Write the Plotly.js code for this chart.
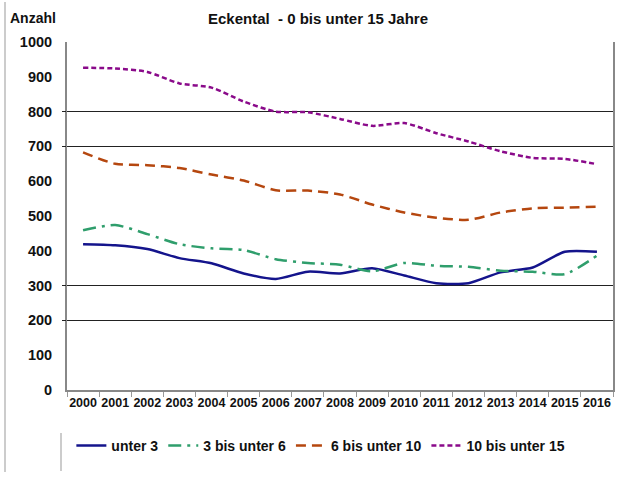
<!DOCTYPE html>
<html>
<head>
<meta charset="utf-8">
<script src="https://cdn.plot.ly/plotly-3.0.1.min.js"></script>
<style>html,body{margin:0;padding:0;background:#fff;}#chart{width:626px;height:477px;}</style>
</head>
<body>
<div id="chart"></div>
<script>
const years = ['2000','2001','2002','2003','2004','2005','2006','2007','2008','2009','2010','2011','2012','2013','2014','2015','2016'];
const unter3 = [419,416,405,379,364,335,319,340,335,350,329,307,307,338,352,397,397];
const bis6   = [459,474,448,419,407,402,376,365,360,341,365,357,354,343,340,333,386];
const bis10  = [683,650,646,638,619,602,574,573,562,533,510,495,489,510,522,524,527];
const bis15  = [926,924,914,881,869,829,800,798,779,759,767,738,714,686,667,664,649];
const seriesNames = ['unter 3','3 bis unter 6','6 bis unter 10','10 bis unter 15'];
const yTicks = [0,100,200,300,400,500,600,700,800,900,1000];
const gridVals = [200,300,700,800];

const F = 'Liberation Sans, Arial, sans-serif';
const mk = (name, y, color, dash) => ({
  type:'scatter', mode:'lines', name:name, x:years, y:y,
  line:{color:color, width:2.5, dash:dash, shape:'spline', smoothing:0.7},
  hoverinfo:'skip'
});
const traces = [
  mk(seriesNames[0], unter3, '#14148c', 'solid'),
  mk(seriesNames[1], bis6, '#2f9e6c', '13px,6px,3px,6px'),
  mk(seriesNames[2], bis10, '#b5470f', '10px,6px'),
  mk(seriesNames[3], bis15, '#8a0a8a', '5px,3px'),
  {type:'scatter', x:[], y:[], yaxis:'y2', showlegend:false, hoverinfo:'skip'}
];
const layout = {
  width:626, height:477,
  margin:{l:67, r:13, t:42, b:87},
  paper_bgcolor:'#fff', plot_bgcolor:'#fff',
  showlegend:true,
  title:{text:'Eckental  - 0 bis unter 15 Jahre', font:{family:F, size:15, weight:'bold', color:'#111'},
         x:0.508, xref:'container', xanchor:'center', y:1-19/477, yref:'container', yanchor:'middle'},
  xaxis:{type:'category', range:[-0.5,16.5], tickson:'boundaries', ticks:'outside', ticklen:5, tickcolor:'#999', tickwidth:1,
         tickangle:0, showline:true, linecolor:'#888', linewidth:2, showgrid:false, zeroline:false,
         tickfont:{family:F, size:12.5, weight:'bold', color:'#111'}, fixedrange:true},
  yaxis:{range:[0,1000], tickvals:yTicks, ticktext:yTicks.map(String), showgrid:false, zeroline:false,
         showline:true, linecolor:'#888', linewidth:2, mirror:true,
         ticks:'outside', ticklen:10, tickcolor:'rgba(0,0,0,0)',
         tickfont:{family:F, size:14.5, weight:'bold', color:'#111'}, fixedrange:true},
  yaxis2:{range:[0,1000], overlaying:'y', side:'left', tickvals:gridVals, showticklabels:false,
          showgrid:true, gridcolor:'#222', gridwidth:1.3, zeroline:false, showline:false,
          ticks:'outside', ticklen:4, tickcolor:'#222', fixedrange:true},
  legend:{orientation:'h', x:0.008, xanchor:'left', y:-(446-390)/348, yanchor:'middle',
          font:{family:F, size:14, weight:'bold', color:'#111'}, bgcolor:'rgba(0,0,0,0)', tracegroupgap:0},
  annotations:[{text:'Anzahl', xref:'paper', yref:'paper', x:(8-67)/546, y:1+(42-18)/348,
                xanchor:'left', yanchor:'middle', showarrow:false,
                font:{family:F, size:14, weight:'bold', color:'#111'}}],
  shapes:[
    {type:'line', xref:'paper', yref:'paper', x0:(5-67)/546, x1:(5-67)/546, y0:1+(42-2)/348, y1:-(472-390)/348,
     line:{color:'#bbb', width:1.5}},
    {type:'line', xref:'paper', yref:'paper', x0:(61-67)/546, x1:(61-67)/546, y0:-(433-390)/348, y1:-(471-390)/348,
     line:{color:'#bbb', width:1.5}}
  ]
};
Plotly.newPlot('chart', traces, layout, {displayModeBar:false, staticPlot:true});
</script>
</body>
</html>
